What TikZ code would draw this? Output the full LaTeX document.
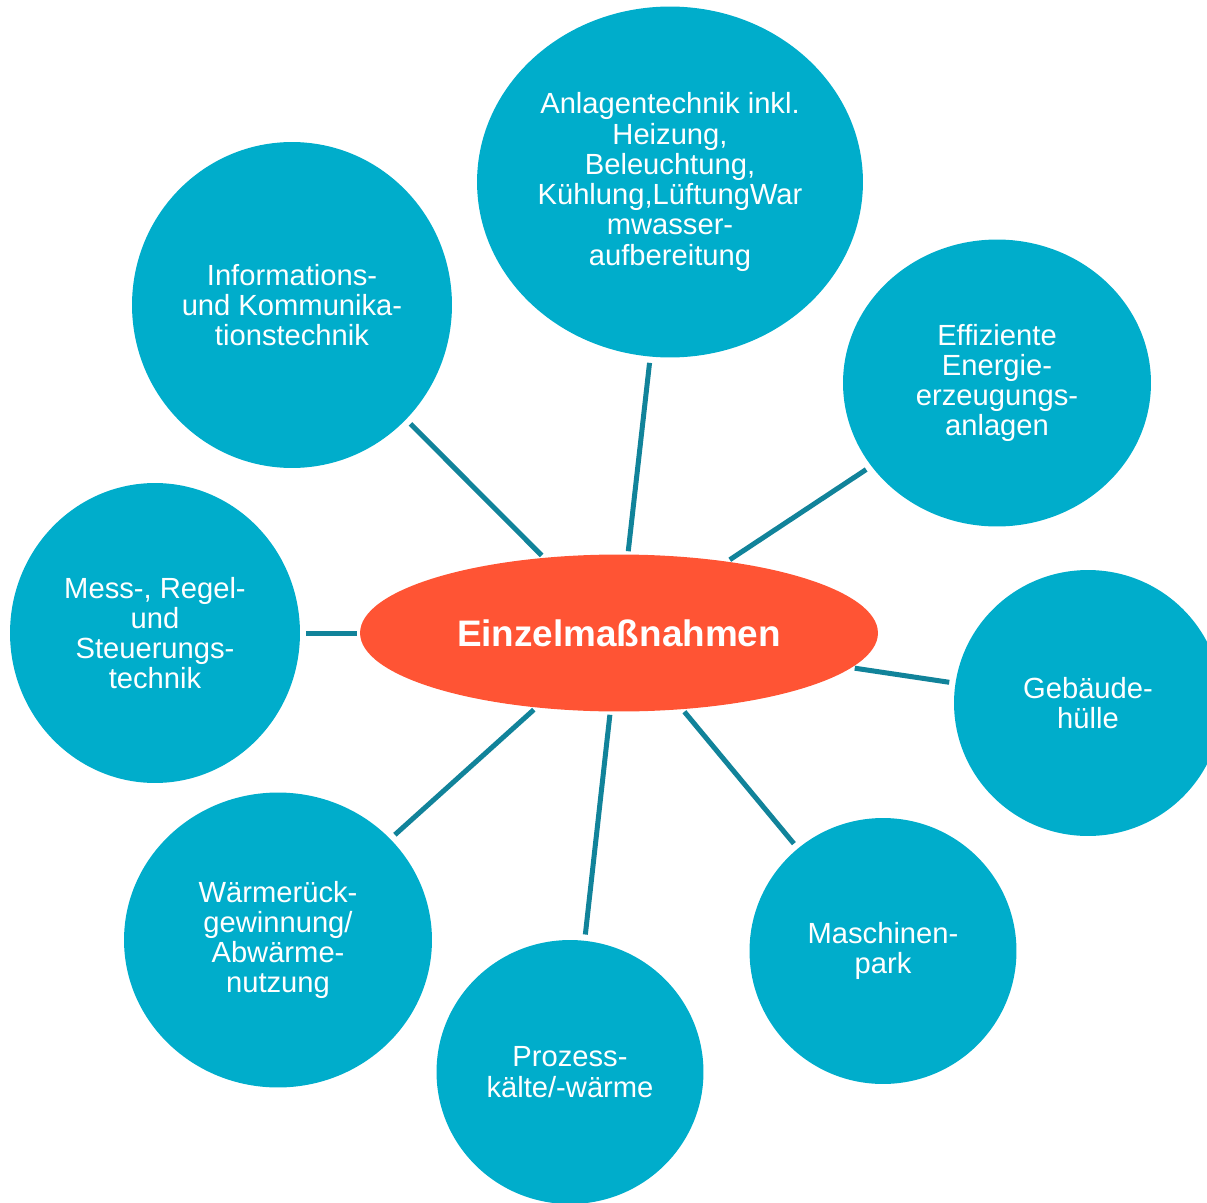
\documentclass[tikz,border=0pt]{standalone}
\usepackage{fontspec}
\setmainfont{Liberation Sans}
\usetikzlibrary{shapes.geometric}
\definecolor{topicblue}{HTML}{00ADCB}
\definecolor{hubred}{HTML}{FF5434}
\definecolor{linkteal}{HTML}{11839A}

\begin{document}
\begin{tikzpicture}[x=0.02cm, y=-0.02cm,
	topic/.style={ellipse, fill=topicblue, inner sep=0pt, align=center, text=white,
		font=\fontsize{16.6}{17.2}\selectfont},
	hub/.style={ellipse, fill=hubred, inner sep=0pt, text=white,
		font=\fontsize{21}{24}\selectfont\bfseries},
	link/.style={draw=linkteal, line width=0.1cm, shorten >=0.12cm, shorten <=0.06cm}]
	\useasboundingbox (0,0) rectangle (1207,1203);
	\clip (0,0) rectangle (1207,1203);
	% 
	\node[hub, minimum width=10.36cm, minimum height=3.14cm] (hub) at (619,633) {Einzelmaßnahmen};
	% 
	\node[topic, minimum width=7.72cm, minimum height=7.02cm] (anlagen) at (670,182)
		{Anlagentechnik inkl.\\Heizung,\\Beleuchtung,\\Kühlung,LüftungWar\\mwasser-\\aufbereitung};
	\node[topic, minimum width=6.4cm, minimum height=6.52cm] (info) at (292,305)
		{Informations-\\und Kommunika-\\tionstechnik};
	\node[topic, minimum width=6.16cm, minimum height=5.74cm] (effizient) at (997,383)
		{Effiziente\\Energie-\\erzeugungs-\\anlagen};
	\node[topic, minimum width=5.36cm, minimum height=5.32cm] (huelle) at (1088,703)
		{Gebäude-\\hülle};
	\node[topic, minimum width=5.34cm, minimum height=5.32cm] (maschinen) at (883,951)
		{Maschinen-\\park};
	\node[topic, minimum width=5.34cm, minimum height=5.28cm] (prozess) at (570,1072)
		{Prozess-\\kälte/-wärme};
	\node[topic, minimum width=6.16cm, minimum height=5.9cm] (abwaerme) at (278,940)
		{Wärmerück-\\gewinnung/\\Abwärme-\\nutzung};
	\node[topic, minimum width=5.8cm, minimum height=6.0cm] (msr) at (155,633)
		{Mess-, Regel-\\und\\Steuerungs-\\technik};
	%
	\foreach \topicname in {anlagen,info,effizient,huelle,maschinen,prozess,abwaerme,msr}
		\draw[link] (hub) -- (\topicname);
\end{tikzpicture}
\end{document}
